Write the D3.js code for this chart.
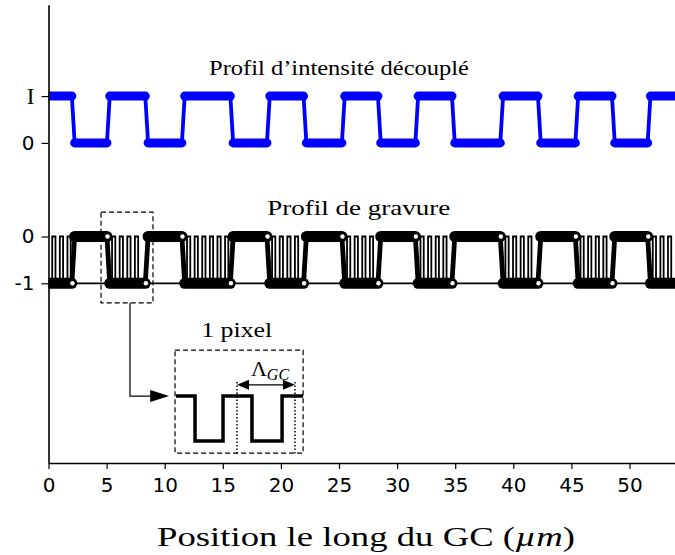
<!DOCTYPE html>
<html><head><meta charset="utf-8">
<script src="https://cdn.jsdelivr.net/npm/d3@7"></script>
<style>body{margin:0;background:#fff}svg{display:block}</style>
</head><body><svg id="c" width="675" height="555"></svg>
<script>
// ---- data ----
const transitions = [2.13, 5.15, 8.45, 11.60, 15.77, 18.92, 22.07, 25.37, 28.47, 31.69, 34.84, 39.00, 42.24, 45.46, 48.61, 51.68];
const firstBlueLevel = 1;           // intensity starts at "I"
const blueOffset = 2;               // vertical offset of the intensity profile
const xMax = 54;
const xTickValues = [0, 5, 10, 15, 20, 25, 30, 35, 40, 45, 50];
const yTickValues = [3, 2, 0, -1];
const yTickLabels = ["I", "0", "0", "-1"];
const gratingPeriod = 0.655;        // Λ_GC (µm)
const gratingTopWidth = 0.28;
const gratingStart = 0.32;
const transitionHalfGap = 0.12;
const insetWaveX = [10.97, 12.61, 15.02, 17.51, 20.10, 21.91];
const insetWaveY = [-3.41, -4.37];  // high, low
const insetBox = [10.89, 21.91, -2.43, -4.63];
const insetDotted = [16.22, 21.21];
const zoomBox = [4.52, 8.99, 0.52, -1.42];
const titles = [
  {text: "Profil d\u2019intensité découplé", x: 25.0, y: 3.45, len: 260},
  {text: "Profil de gravure", x: 26.7, y: 0.46, len: 183},
  {text: "1 pixel", x: 16.2, y: -2.15, len: 71}
];

// ---- scales ----
const svg = d3.select("#c");
const x = d3.scaleLinear().domain([0, xMax]).range([48.5, 676]);
const y = d3.scaleLinear().domain([0, 3]).range([236.5, 96.1]);
const yBottom = -4.84, yTop = 4.95;

svg.append("defs").append("clipPath").attr("id", "clip")
  .append("rect").attr("x", x(0)).attr("y", y(yTop)).attr("width", x(xMax) - x(0)).attr("height", y(yBottom) - y(yTop));

// plateau segments
const bounds = [0, ...transitions, xMax];
const segs = [];
for (let i = 0; i < bounds.length - 1; i++) {
  const lvl = (i % 2 === 0) ? firstBlueLevel : 1 - firstBlueLevel;
  segs.push({a: bounds[i], b: bounds[i + 1], lvl});
}
const segA = (s, i) => i === 0 ? s.a : s.a + transitionHalfGap;
const segB = (s, i) => i === segs.length - 1 ? s.b : s.b - transitionHalfGap;
function stepPoints(levelFn) {
  const pts = [];
  segs.forEach((s, i) => pts.push([segA(s, i), levelFn(s.lvl)], [segB(s, i), levelFn(s.lvl)]));
  return pts;
}
const line = d3.line().x(d => x(d[0])).y(d => y(d[1]));
const g = svg.append("g").attr("clip-path", "url(#clip)");

// ---- blue intensity profile ----
const blueLvl = l => l + blueOffset;
g.append("path").attr("d", line(stepPoints(blueLvl))).attr("fill", "none")
  .attr("stroke", "#0000ff").attr("stroke-width", 3.8).attr("stroke-linejoin", "round");
segs.forEach((s, i) => {
  g.append("line").attr("x1", x(segA(s, i))).attr("x2", x(segB(s, i))).attr("y1", y(blueLvl(s.lvl))).attr("y2", y(blueLvl(s.lvl)))
    .attr("stroke", "#0000ff").attr("stroke-width", 9).attr("stroke-linecap", "round");
});

// ---- black etching profile ----
const blackLvl = l => -l;
const thin = [[0, -1]];
segs.forEach(s => {
  if (s.lvl === 1) {
    for (let x0 = s.a + gratingStart; x0 + gratingTopWidth < s.b - 0.15; x0 += gratingPeriod) {
      thin.push([x0, -1], [x0, 0], [x0 + gratingTopWidth, 0], [x0 + gratingTopWidth, -1]);
    }
  }
  thin.push([s.b, -1]);
});
g.append("path").attr("d", line(thin)).attr("fill", "none").attr("stroke", "#000").attr("stroke-width", 1.8);
g.append("path").attr("d", line(stepPoints(blackLvl))).attr("fill", "none")
  .attr("stroke", "#000").attr("stroke-width", 4.8).attr("stroke-linejoin", "round");
segs.forEach((s, i) => {
  g.append("line").attr("x1", x(segA(s, i))).attr("x2", x(segB(s, i))).attr("y1", y(blackLvl(s.lvl))).attr("y2", y(blackLvl(s.lvl)))
    .attr("stroke", "#000").attr("stroke-width", 11).attr("stroke-linecap", "round");
});
segs.slice(0, -1).forEach(s => {
  g.append("circle").attr("cx", x(s.b - transitionHalfGap * 0.6)).attr("cy", y(blackLvl(s.lvl))).attr("r", 2.2).attr("fill", "#fff");
});

// ---- axes ----
const xAxis = svg.append("g").attr("transform", `translate(0,${y(yBottom)})`)
  .call(d3.axisBottom(x).tickValues(xTickValues).tickSize(6).tickPadding(9).tickSizeOuter(0));
xAxis.select(".domain").attr("stroke-width", 1.6);
xAxis.selectAll(".tick line").attr("stroke-width", 1.2);
xAxis.selectAll("text").attr("font-family", "DejaVu Sans").attr("font-size", 20).attr("fill", "#000");

const yAxis = svg.append("g").attr("transform", `translate(${x(0)},0)`)
  .call(d3.axisLeft(d3.scaleLinear().domain([yBottom, yTop]).range([y(yBottom), y(yTop)]))
    .tickValues(yTickValues).tickFormat((d, i) => yTickLabels[i]).tickSize(7).tickPadding(7).tickSizeOuter(0));
yAxis.select(".domain").attr("stroke-width", 1.6);
yAxis.selectAll(".tick line").attr("stroke-width", 1.2);
yAxis.selectAll("text").attr("font-family", (d, i) => yTickLabels[i] === "I" ? "Liberation Serif" : "DejaVu Sans")
  .attr("font-size", (d, i) => yTickLabels[i] === "I" ? 23 : 20).attr("fill", "#000");

// ---- annotations ----
titles.forEach(t => {
  svg.append("text").attr("x", x(t.x)).attr("y", y(t.y)).attr("text-anchor", "middle")
    .attr("font-family", "Liberation Serif").attr("font-size", 21)
    .attr("textLength", t.len).attr("lengthAdjust", "spacingAndGlyphs").text(t.text);
});
const dash = "5,3";
svg.append("rect").attr("x", x(zoomBox[0])).attr("y", y(zoomBox[2])).attr("width", x(zoomBox[1]) - x(zoomBox[0]))
  .attr("height", y(zoomBox[3]) - y(zoomBox[2])).attr("fill", "none").attr("stroke", "#000").attr("stroke-width", 1.2).attr("stroke-dasharray", dash);
svg.append("rect").attr("x", x(insetBox[0])).attr("y", y(insetBox[2])).attr("width", x(insetBox[1]) - x(insetBox[0]))
  .attr("height", y(insetBox[3]) - y(insetBox[2])).attr("fill", "none").attr("stroke", "#000").attr("stroke-width", 1.2).attr("stroke-dasharray", dash);
const arrowX = 7.01;
svg.append("path").attr("d", line([[arrowX, zoomBox[3]], [arrowX, insetWaveY[0]], [9.0, insetWaveY[0]]]))
  .attr("fill", "none").attr("stroke", "#000").attr("stroke-width", 1.2);
svg.append("path").attr("d", `M${x(8.75)},${y(insetWaveY[0]) - 6}L${x(10.38)},${y(insetWaveY[0])}L${x(8.75)},${y(insetWaveY[0]) + 6}Z`).attr("fill", "#000");
const wp = [];
insetWaveX.forEach((xv, i) => {
  if (i === 0) { wp.push([xv, insetWaveY[0]]); return; }
  const prev = wp[wp.length - 1][1];
  wp.push([xv, prev]);
  if (i < insetWaveX.length - 1) wp.push([xv, prev === insetWaveY[0] ? insetWaveY[1] : insetWaveY[0]]);
});
svg.append("path").attr("d", line(wp)).attr("fill", "none").attr("stroke", "#000").attr("stroke-width", 3.5).attr("stroke-linejoin", "miter");
insetDotted.forEach(xv => {
  svg.append("line").attr("x1", x(xv)).attr("x2", x(xv)).attr("y1", y(-3.11)).attr("y2", y(insetBox[3]))
    .attr("stroke", "#000").attr("stroke-width", 1.5).attr("stroke-dasharray", "1.5,2");
});
const ay = y(-3.17);
svg.append("line").attr("x1", x(insetDotted[0]) + 8).attr("x2", x(insetDotted[1]) - 8).attr("y1", ay).attr("y2", ay).attr("stroke", "#000").attr("stroke-width", 1.2);
svg.append("path").attr("d", `M${x(insetDotted[0])},${ay}l12,-5l0,10z M${x(insetDotted[1])},${ay}l-12,-5l0,10z`).attr("fill", "#000");
const lam = svg.append("text").attr("x", x(19.06)).attr("y", y(-2.98)).attr("text-anchor", "middle")
  .attr("font-family", "Liberation Serif").attr("font-size", 22);
lam.append("tspan").text("\u039B");
lam.append("tspan").attr("font-style", "italic").attr("font-size", 16).attr("dy", 4).text("GC");

// x label
const xl = svg.append("text").attr("x", 366).attr("y", 546).attr("text-anchor", "middle")
  .attr("font-family", "Liberation Serif").attr("font-size", 28)
  .attr("textLength", 418).attr("lengthAdjust", "spacingAndGlyphs");
xl.append("tspan").text("Position le long du GC (");
xl.append("tspan").attr("font-style", "italic").text("\u00B5m");
xl.append("tspan").text(")");
</script></body></html>
